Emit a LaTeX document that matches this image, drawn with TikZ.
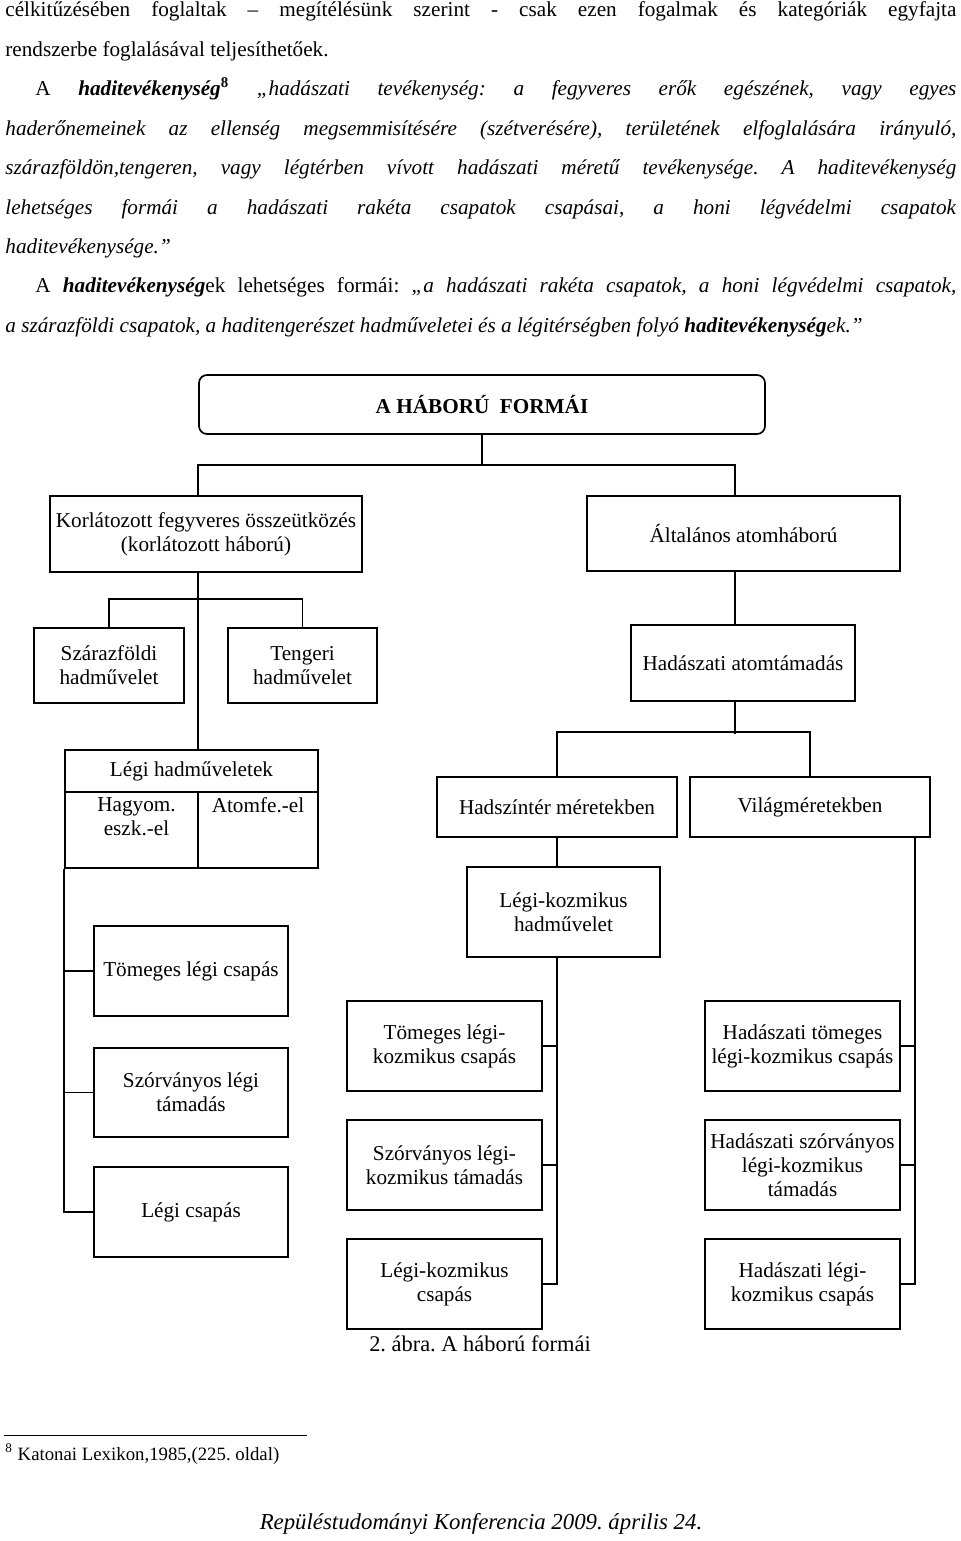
\documentclass[tikz,border=0pt]{standalone}
\usepackage{fontspec}
\setmainfont{Liberation Serif}
\frenchspacing

\tikzset{
  sor/.style={anchor=base west, inner sep=0pt, font=\fontsize{10.6}{12}\selectfont},
  doboz/.style={draw, line width=0.85pt, align=center, inner sep=0pt, font=\fontsize{10.6}{12}\selectfont},
  cimdoboz/.style={doboz, rounded corners=4pt, font=\fontsize{10.6}{12}\selectfont\bfseries},
  cellaszoveg/.style={anchor=north, align=center, inner xsep=0pt, inner ysep=2.8pt, font=\fontsize{10.6}{12}\selectfont},
  vonal/.style={line width=0.85pt},
}

\begin{document}
\begin{tikzpicture}[x=0.5pt,y=0.5pt,yscale=-1,xscale=1]
		\useasboundingbox (0,0) rectangle (960,1541);
		
		% szoveg
		\node[sor] (s1) at (5,17) {\makebox[475.5pt][s]{célkitűzésében foglaltak – megítélésünk szerint - csak ezen fogalmak és kategóriák egyfajta}};
		\node[sor] (s2) at (5,56.4) {rendszerbe foglalásával teljesíthetőek.};
		\node[sor] (s3) at (35,95.8) {\makebox[460.5pt][s]{A \textbf{\textit{haditevékenység}}\textsuperscript{\textbf{8}} \textit{„hadászati tevékenység: a fegyveres erők egészének, vagy egyes}}};
		\node[sor] (s4) at (5,135.2) {\makebox[475.5pt][s]{\textit{haderőnemeinek az ellenség megsemmisítésére (szétverésére), területének elfoglalására irányuló,}}};
		\node[sor] (s5) at (5,174.6) {\makebox[475.5pt][s]{\textit{szárazföldön,tengeren, vagy légtérben vívott hadászati méretű tevékenysége. A haditevékenység}}};
		\node[sor] (s6) at (5,214) {\makebox[475.5pt][s]{\textit{lehetséges formái a hadászati rakéta csapatok csapásai, a honi légvédelmi csapatok}}};
		\node[sor] (s7) at (5,253.4) {\textit{haditevékenysége.”}};
		\node[sor] (s8) at (35,292.8) {\makebox[460.5pt][s]{A \textbf{\textit{haditevékenység}}ek lehetséges formái: \textit{„a hadászati rakéta csapatok, a honi légvédelmi csapatok,}}};
		\node[sor] (s9) at (5,332.2) {\textit{a szárazföldi csapatok, a haditengerészet hadműveletei és a légitérségben folyó \textbf{haditevékenység}ek.”}};
		
		% dobozok
		\node[cimdoboz, minimum width=283pt, minimum height=29.5pt] (cim) at (482,404.5) {A HÁBORÚ\ \ FORMÁI};
		\node[doboz, minimum width=156pt, minimum height=38pt] (korl) at (206,534) {Korlátozott fegyveres összeütközés\\(korlátozott háború)};
		\node[doboz, minimum width=156.5pt, minimum height=37.5pt] (alt) at (743.5,533.5) {Általános atomháború};
		\node[doboz, minimum width=75pt, minimum height=37.5pt] (szar) at (109,665.5) {Szárazföldi\\hadművelet};
		\node[doboz, minimum width=74.5pt, minimum height=37.5pt] (teng) at (302.5,665.5) {Tengeri\\hadművelet};
		\node[doboz, minimum width=112pt, minimum height=38pt] (atom) at (743,663) {Hadászati atomtámadás};
		
		\node[doboz, minimum width=126.5pt, minimum height=21pt] (legifej) at (191.5,771) {Légi hadműveletek};
		\node[doboz, minimum width=66.5pt, minimum height=38pt] (hagy) at (131.5,830) {};
		\node[doboz, minimum width=60pt, minimum height=38pt] (atomfe) at (258,830) {};
		\node[cellaszoveg] (hagyt) at ([xshift=2.5pt]hagy.north) {Hagyom.\\eszk.-el};
		\node[cellaszoveg] (atomfet) at (atomfe.north) {Atomfe.-el};
		
		\node[doboz, minimum width=120pt, minimum height=30pt] (hadsz) at (557,807) {Hadszíntér méretekben};
		\node[doboz, minimum width=120pt, minimum height=30pt] (vilag) at (810,807) {Világméretekben};
		\node[doboz, minimum width=96.5pt, minimum height=45pt] (lkhad) at (563.5,912) {Légi-kozmikus\\hadművelet};
		
		\node[doboz, minimum width=97pt, minimum height=45pt] (tlcs) at (191,971) {Tömeges légi csapás};
		\node[doboz, minimum width=97pt, minimum height=44.5pt] (szlt) at (191,1092.5) {Szórványos légi\\támadás};
		\node[doboz, minimum width=97pt, minimum height=45pt] (lcs) at (191,1212) {Légi csapás};
		
		\node[doboz, minimum width=97.5pt, minimum height=45pt] (tlkcs) at (444.5,1046) {Tömeges légi-\\kozmikus csapás};
		\node[doboz, minimum width=97.5pt, minimum height=45pt] (szlkt) at (444.5,1165) {Szórványos légi-\\kozmikus támadás};
		\node[doboz, minimum width=97.5pt, minimum height=45pt] (lkcs) at (444.5,1284) {Légi-kozmikus\\csapás};
		
		\node[doboz, minimum width=97.5pt, minimum height=45pt] (htlkcs) at (802.5,1046) {Hadászati tömeges\\légi-kozmikus csapás};
		\node[doboz, minimum width=97.5pt, minimum height=45pt] (hszlkt) at (802.5,1165) {Hadászati szórványos\\légi-kozmikus\\támadás};
		\node[doboz, minimum width=97.5pt, minimum height=45pt] (hlkcs) at (802.5,1284) {Hadászati légi-\\kozmikus csapás};
		
		% kapcsolatok
		\coordinate (bfent) at ([xshift=-4pt]korl.north);
		\coordinate (blent) at ([xshift=-4pt]korl.south);
		\coordinate (jfent) at ([xshift=-4.25pt]alt.north);
		\coordinate (jlent) at ([xshift=-4.25pt]alt.south);
		\coordinate (jtorzs) at ([xshift=-8pt]vilag.south east);
		
		\draw[vonal] (cim.south) -- ++(0,31.5);
		\draw[vonal] (bfent) -- ++(0,-30) -| (jfent);
		\draw[vonal] (blent) -- (blent |- legifej.north);
		\draw[vonal] (szar.north) -- ++(0,-28) -| (teng.north);
		\draw[vonal] (jlent) -- (jlent |- atom.north);
		\draw[vonal] (atom.south -| jlent) -- ++(0,32);
		\draw[vonal] (hadsz.north) -- ++(0,-44) -| (vilag.north);
		
		\draw[vonal] (hagy.south west) |- (lcs.west);
		\draw[vonal] (tlcs.west) -- (tlcs.west -| hagy.west);
		\draw[vonal] (szlt.west) -- (szlt.west -| hagy.west);
		
		\draw[vonal] (hadsz.south) -- (hadsz.south |- lkhad.north);
		\draw[vonal] (hadsz.south |- lkhad.south) |- (lkcs.east);
		\draw[vonal] (tlkcs.east) -- (tlkcs.east -| hadsz.south);
		\draw[vonal] (szlkt.east) -- (szlkt.east -| hadsz.south);
		
		\draw[vonal] (jtorzs) |- (hlkcs.east);
		\draw[vonal] (htlkcs.east) -- (htlkcs.east -| jtorzs);
		\draw[vonal] (hszlkt.east) -- (hszlkt.east -| jtorzs);
		
		% alairas, labjegyzet
		\node[anchor=base, inner sep=0pt, font=\fontsize{11.2}{13}\selectfont] (abra) at (480,1351) {2. ábra. A háború formái};
		\draw[line width=0.5pt] (4,1435) -- (307,1435);
		\node[anchor=base west, inner sep=0pt, font=\fontsize{9.4}{11}\selectfont] (labj) at (5,1460) {\textsuperscript{8} Katonai Lexikon,1985,(225. oldal)};
		\node[anchor=base, inner sep=0pt, font=\fontsize{11.4}{13}\selectfont\itshape] (lablec) at (481,1529) {Repüléstudományi Konferencia 2009. április 24.};
		
		
\end{tikzpicture}
\end{document}
